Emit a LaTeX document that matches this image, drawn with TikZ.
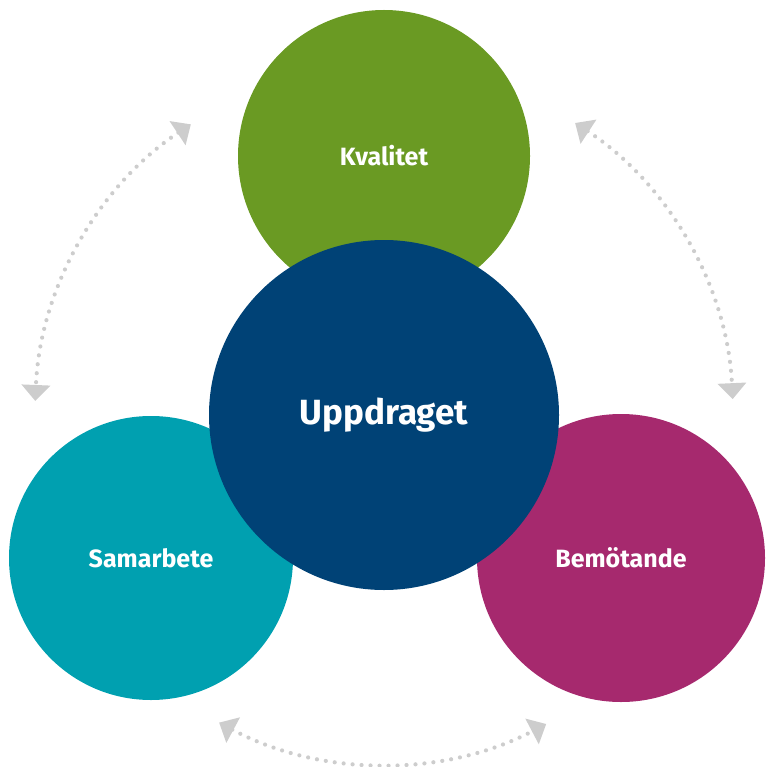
\documentclass[tikz,border=0pt]{standalone}
\usepackage{fontspec}
\setmainfont{Fira Sans}
\usetikzlibrary{arrows.meta}
\definecolor{cgreen}{HTML}{6A9A23}
\definecolor{cblue}{HTML}{004276}
\definecolor{cteal}{HTML}{00A0B0}
\definecolor{cmag}{HTML}{A6296E}
\definecolor{cgray}{HTML}{CDCDCD}
\begin{document}
\begin{tikzpicture}[x=1pt,y=-1pt,
  circ/.style={circle, inner sep=0pt, text=white, font=\fontsize{25}{30}\selectfont\bfseries},
  dotarc/.style={draw=cgray, line width=4.2pt, line cap=round, dash pattern=on 0pt off 9pt,
     {Triangle[width=28pt,length=16pt,fill=cgray]}-{Triangle[width=28pt,length=16pt,fill=cgray]}}]
\useasboundingbox (0,0) rectangle (765,767);
\node[circ, fill=cgreen, minimum size=292pt] (kval) at (384,156) {Kvalitet};
\node[circ, fill=cteal, minimum size=284pt] (sam) at (151,558) {Samarbete};
\node[circ, fill=cmag, minimum size=288pt] (bem) at (621,558) {Bemötande};
\node[circ, fill=cblue, minimum size=350pt, font=\fontsize{35}{42}\selectfont\bfseries] (upp) at (384,415) {Uppdraget};
\draw[dotarc] ([shift={(-123.6:349)}]upp.center) arc[start angle=-123.6, end angle=-177.7, radius=349];
\draw[dotarc] ([shift={(-56.8:349)}]upp.center) arc[start angle=-56.8, end angle=-2.6, radius=349];
\draw[dotarc] ([shift={(-241.8:349)}]upp.center) arc[start angle=-241.8, end angle=-297.7, radius=349];
\end{tikzpicture}
\end{document}
